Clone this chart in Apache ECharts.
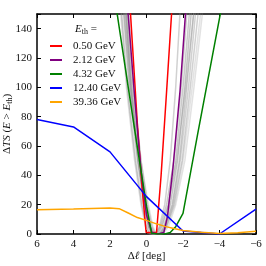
<!DOCTYPE html>
<html><head><meta charset="utf-8">
<script src="https://cdn.jsdelivr.net/npm/echarts@6/dist/echarts.min.js"></script>
<style>html,body{margin:0;padding:0;background:#fff}#c{width:266px;height:266px}</style>
</head><body><div id="c"></div>
<script>
// ---- data ----
const xTicks = [6, 4, 2, 0, -2, -4, -6];
const yTicks = [0, 20, 40, 60, 80, 100, 120, 140];
const legendNames = ['0.50 GeV', '2.12 GeV', '4.32 GeV', '12.40 GeV', '39.36 GeV'];
const red050 = [[0.95,165],[0.5,75],[0.25,33],[0.02,1],[-0.55,1],[-0.8,40],[-1.1,97],[-1.45,165]];
const purple212 = [[1.1,165],[0.68,98],[0.3,43],[0,13],[-0.3,1],[-0.6,0],[-0.95,1],[-1.15,12],[-1.45,45],[-1.84,98],[-2.22,165]];
const green432 = [[1.8,166],[1.0,100],[0.5,59],[0,19],[-0.28,0.5],[-0.6,0],[-1.0,0],[-1.3,1],[-1.6,5],[-2.0,14],[-2.8,68],[-4.15,157]];
const blue1240 = [[6,78],[4,73],[2,56],[0,25.5],[-2,2],[-4,0],[-6,17]];
const orange3936 = [[6,16.5],[4,17],[2,17.7],[1.5,17.3],[1,14.3],[0.5,11.2],[0,9.3],[-0.5,7.1],[-1,5.2],[-1.5,3.7],[-2,2.4],[-3,1.2],[-4,0.3],[-5,0.9],[-6,1.8]];
// gray background curves
const gray1 = [[1.45,165],[1.05,100],[0.6,50],[0.25,20],[0.0,5],[-0.2,0],[-0.5,0],[-0.75,5],[-1.1,20],[-1.5,50],[-1.9,100],[-2.3,165]];
const gray2 = [[1.35,165],[0.95,100],[0.5,50],[0.15,20],[-0.1,5],[-0.3,0],[-0.6,0],[-0.85,5],[-1.2,20],[-1.6,50],[-2.0,100],[-2.45,165]];
const gray3 = [[1.3,165],[0.9,100],[0.45,50],[0.1,20],[-0.15,5],[-0.35,0],[-0.7,0],[-0.95,5],[-1.3,20],[-1.7,50],[-2.1,100],[-2.55,165]];
const gray4 = [[1.2,165],[0.85,100],[0.4,50],[0.05,20],[-0.2,5],[-0.4,0],[-0.75,0],[-1.0,5],[-1.4,20],[-1.8,50],[-2.2,100],[-2.7,165]];
const gray5 = [[1.15,165],[0.8,100],[0.35,50],[0.0,20],[-0.25,5],[-0.45,0],[-0.8,0],[-1.05,5],[-1.45,20],[-1.85,50],[-2.3,100],[-2.8,165]];
const gray6 = [[1.1,165],[0.75,100],[0.3,50],[-0.05,20],[-0.3,5],[-0.5,0],[-0.85,0],[-1.1,5],[-1.5,20],[-1.95,50],[-2.4,100],[-2.95,165]];
const gray7 = [[1.0,165],[0.7,100],[0.3,50],[-0.1,20],[-0.35,5],[-0.55,0],[-0.9,0],[-1.2,5],[-1.6,20],[-2.1,50],[-2.6,100],[-3.2,165]];
const gray8 = [[1.5,165],[1.1,100],[0.65,50],[0.3,20],[0.05,5],[-0.15,0],[-0.55,0],[-0.8,5],[-1.2,20],[-1.65,50],[-2.15,100],[-2.7,165]];
const gray9 = [[1.25,165],[0.85,100],[0.45,50],[0.1,20],[-0.15,5],[-0.35,0],[-0.8,0],[-1.1,5],[-1.55,20],[-2.0,50],[-2.5,100],[-3.1,165]];
const gray10 = [[1.2,165],[0.85,100],[0.45,50],[0.1,20],[-0.1,5],[-0.3,0],[-0.5,0],[-0.7,5],[-1.0,20],[-1.3,50],[-1.6,100],[-1.9,165]];
const grayCurves = [gray1, gray2, gray3, gray4, gray5, gray6, gray7, gray8, gray9, gray10];
const grayAlpha = [0.45, 0.45, 0.5, 0.45, 0.4, 0.4, 0.25, 0.3, 0.25, 0.4];

// ---- chart ----
const serif = 'Liberation Serif';
const fmt = v => v < 0 ? '\u2212' + Math.abs(v) : String(v);
const colored = [
  {name: legendNames[0], data: red050, color: '#ff0000'},
  {name: legendNames[1], data: purple212, color: '#800080'},
  {name: legendNames[2], data: green432, color: '#008000'},
  {name: legendNames[3], data: blue1240, color: '#0000ff'},
  {name: legendNames[4], data: orange3936, color: '#ffa500'}
];
const series = [];
grayCurves.forEach((g, i) => series.push({
  type: 'line', data: g, symbol: 'none', silent: true,
  lineStyle: {color: 'rgba(140,140,140,' + grayAlpha[i] + ')', width: 1.5}
}));
colored.forEach(s => series.push({
  type: 'line', name: s.name, data: s.data, symbol: 'none', color: s.color,
  lineStyle: {color: s.color, width: 1.5}
}));

const axisLine = {show: true, onZero: false, lineStyle: {color: '#000', width: 1.5}};
const tick = {show: true, inside: true, length: 4, lineStyle: {color: '#000', width: 1}};
const rich = {
  n: {fontFamily: serif, fontSize: 11, fontWeight: 'normal', color: '#111'},
  i: {fontFamily: serif, fontSize: 11, fontWeight: 'normal', fontStyle: 'italic', color: '#111'},
  s: {fontFamily: serif, fontSize: 8, fontWeight: 'normal', color: '#111', padding: [5, 0, 0, 0]}
};

const chart = echarts.init(document.getElementById('c'), null, {renderer: 'canvas'});
chart.setOption({
  animation: false,
  backgroundColor: '#fff',
  grid: {left: 37, right: 10, top: 14, bottom: 32, containLabel: false, outerBoundsMode: 'none'},
  title: {
    text: '{i|E}{s|th}{n| =}', left: 70, top: 18,
    textStyle: {fontWeight: 'normal', rich: rich}
  },
  legend: {
    data: legendNames, orient: 'vertical', left: 45, top: 34,
    itemWidth: 12, itemHeight: 2, itemGap: 0, icon: 'rect',
    textStyle: {fontFamily: serif, fontSize: 11, color: '#111', lineHeight: 14, padding: [0, 0, 0, 6]}
  },
  xAxis: [
    {type: 'value', min: -6, max: 6, interval: 2, inverse: true,
     axisLine: axisLine, axisTick: tick, splitLine: {show: false},
     axisLabel: {formatter: fmt, fontFamily: serif, fontSize: 11, color: '#111', margin: 5},
     name: '{n|\u0394}{i|\u2113}{n| [deg]}', nameLocation: 'middle', nameGap: 17, nameMoveOverlap: false,
     nameTextStyle: {rich: rich}},
    {type: 'value', min: -6, max: 6, interval: 2, inverse: true, position: 'top',
     axisLine: axisLine, axisTick: tick, splitLine: {show: false}, axisLabel: {show: false}}
  ],
  yAxis: [
    {type: 'value', min: 0, max: 150, interval: 20,
     axisLine: axisLine, axisTick: tick, splitLine: {show: false},
     axisLabel: {fontFamily: serif, fontSize: 11, color: '#111', margin: 5,
       formatter: v => yTicks.indexOf(v) >= 0 ? String(v) : ''},
     name: '{n|\u0394}{i|TS}{n| (}{i|E}{n| > }{i|E}{s|th}{n|)}', nameLocation: 'middle', nameGap: 23, nameMoveOverlap: false,
     nameTextStyle: {rich: rich}},
    {type: 'value', min: 0, max: 150, interval: 20, position: 'right',
     axisLine: axisLine, axisTick: tick, splitLine: {show: false}, axisLabel: {show: false}}
  ],
  series: series
});
</script></body></html>
